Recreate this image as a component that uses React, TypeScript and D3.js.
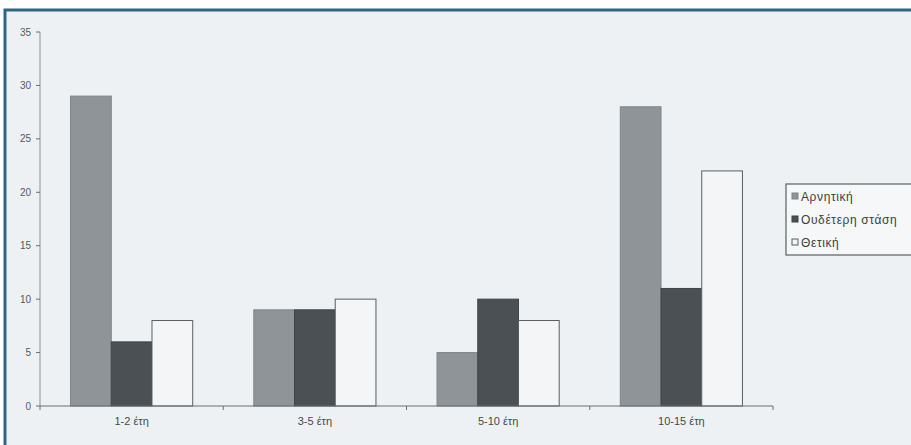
import React from "react";
import * as d3 from "d3";

const categories = ["1-2 έτη", "3-5 έτη", "5-10 έτη", "10-15 έτη"];
const seriesNames = ["Αρνητική", "Ουδέτερη στάση", "Θετική"];
const negative = [29, 9, 5, 28];
const neutral = [6, 9, 10, 11];
const positive = [8, 10, 8, 22];
const yTicks = [0, 5, 10, 15, 20, 25, 30, 35];

const W = 911;
const H = 445;
const plot = { left: 40, right: 773, top: 32, bottom: 406 };
const fills = ["#8f9498", "#4b5054", "#f3f5f6"];
const strokes = ["#7f8488", "#3e4346", "#5a5f63"];

export default function App() {
  const series = [negative, neutral, positive];
  const x0 = d3.scaleBand<string>().domain(categories).range([plot.left, plot.right]).paddingInner(0).paddingOuter(0);
  const x1 = d3
    .scaleBand<number>()
    .domain(d3.range(series.length))
    .range([0, x0.bandwidth()])
    .paddingOuter(0.75)
    .paddingInner(0);
  const y = d3.scaleLinear().domain([0, 35]).range([plot.bottom, plot.top]);
  const font = "'Liberation Sans', Arial, sans-serif";
  const boundaries = [...categories.map((c) => x0(c) as number), plot.right];

  return (
    <svg
      width={W}
      height={H}
      style={{ position: "fixed", left: 0, top: 0, display: "block" }}
      fontFamily={font}
    >
      <rect x={0} y={0} width={W} height={H} fill="#ffffff" />
      <rect x={5} y={10} width={W + 20} height={H + 20} fill="#eef1f3" stroke="#2f6584" strokeWidth={3} />

      {/* y axis */}
      <line x1={plot.left} x2={plot.left} y1={plot.top} y2={plot.bottom} stroke="#8a8f93" strokeWidth={1} />
      {yTicks.map((t) => (
        <g key={t}>
          <line x1={plot.left - 4} x2={plot.left} y1={y(t)} y2={y(t)} stroke="#6a6f73" />
          <text x={plot.left - 9} y={y(t)} dy="0.35em" textAnchor="end" fontSize={10} fill="#555a5e">
            {t}
          </text>
        </g>
      ))}

      {/* bars */}
      {categories.map((c, ci) => (
        <g key={c} transform={`translate(${x0(c)},0)`}>
          {series.map((s, si) => (
            <rect
              key={si}
              x={x1(si)}
              y={y(s[ci])}
              width={x1.bandwidth()}
              height={y(0) - y(s[ci])}
              fill={fills[si]}
              stroke={strokes[si]}
              strokeWidth={1}
            />
          ))}
        </g>
      ))}

      {/* x axis */}
      <line x1={plot.left} x2={plot.right} y1={plot.bottom} y2={plot.bottom} stroke="#6a6f73" />
      {boundaries.map((b, i) => (
        <line key={i} x1={b} x2={b} y1={plot.bottom} y2={plot.bottom + 4} stroke="#6a6f73" />
      ))}
      {categories.map((c) => (
        <text
          key={c}
          x={(x0(c) as number) + x0.bandwidth() / 2}
          y={plot.bottom + 19}
          textAnchor="middle"
          fontSize={11}
          fill="#45494c"
        >
          {c}
        </text>
      ))}

      {/* legend */}
      <g transform="translate(786,184)">
        <rect x={0} y={0} width={140} height={71} fill="#f5f7f8" stroke="#5a5f63" strokeWidth={1.2} />
        {seriesNames.map((n, i) => (
          <g key={n} transform={`translate(6,${13 + i * 23})`}>
            <rect x={0} y={-4} width={6} height={6} fill={fills[i]} stroke={strokes[i]} />
            <text x={9} y={0} dy="0.35em" fontSize={12} letterSpacing={0.6} fill="#3a3e41">
              {n}
            </text>
          </g>
        ))}
      </g>
    </svg>
  );
}
